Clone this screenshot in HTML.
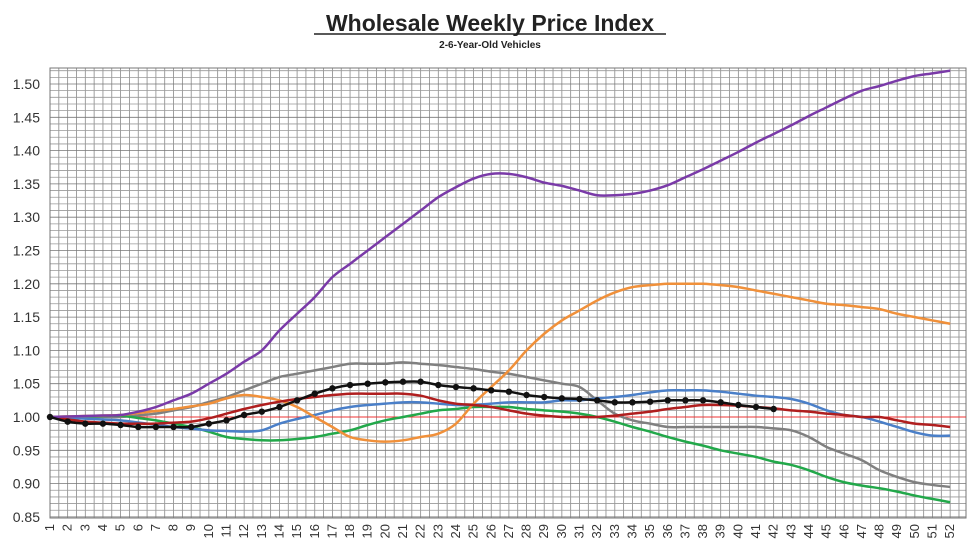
<!DOCTYPE html>
<html><head><meta charset="utf-8"><style>
html,body{margin:0;padding:0;background:#fff;}
svg{display:block;font-family:"Liberation Sans",Arial,sans-serif;}
</style></head><body>
<svg id="s" width="980" height="552" xmlns="http://www.w3.org/2000/svg">
<text x="490" y="31" text-anchor="middle" font-size="23" font-weight="bold" fill="#222">Wholesale Weekly Price Index</text>
<line x1="314" y1="34" x2="666" y2="34" stroke="#222" stroke-width="1.5"/>
<text x="490" y="48" text-anchor="middle" font-size="10" font-weight="bold" fill="#222">2-6-Year-Old Vehicles</text>
<g id="g"></g>
</svg>
<script>
var g=document.getElementById('g'),h='';
var L=50,R=966,T=68,B=518;
function X(w){return 50+(w-1)*17.65;}
function Y(v){return 417-(v-1)*666;}
for(var x=L;x<=R+0.5;x+=8.825){h+='<line x1="'+x+'" y1="'+T+'" x2="'+x+'" y2="'+B+'" stroke="#888" stroke-width="0.8"/>';}
for(var i=0;;i++){var v=0.85+i*0.01;var y=Y(v);if(y<T)break;h+='<line x1="'+L+'" y1="'+y+'" x2="'+R+'" y2="'+y+'" stroke="'+(i%5==0?'#777':'#999')+'" stroke-width="0.8"/>';}
h+='<rect x="'+L+'" y="'+T+'" width="'+(R-L)+'" height="'+(B-T)+'" fill="none" stroke="#777"/>';
for(var k=0;k<=13;k++){var v=0.85+k*0.05;h+='<text x="40" y="'+(Y(v)+5)+'" text-anchor="end" font-size="14" fill="#333">'+v.toFixed(2)+'</text>';}
for(var w=1;w<=52;w++){h+='<text transform="translate('+(X(w)+4)+',524) rotate(-90)" text-anchor="end" font-size="13" fill="#333">'+w+'</text>';}
h+='<line x1="'+L+'" y1="'+Y(1)+'" x2="'+R+'" y2="'+Y(1)+'" stroke="#e33" stroke-width="1"/>';
function series(d,n){var pts=[],ks=Object.keys(d).map(Number).sort(function(a,b){return a-b});
for(var w=1;w<=n;w++){var v;if(d[w]!==undefined)v=d[w];else{var a=1,b=n;for(var j=0;j<ks.length;j++){if(ks[j]<w)a=ks[j];if(ks[j]>w){b=ks[j];break;}}v=d[a]+(d[b]-d[a])*(w-a)/(b-a);}pts.push([X(w),Y(v)]);}
var p='M'+pts[0][0]+','+pts[0][1];for(var i=0;i<pts.length-1;i++){var p0=pts[Math.max(0,i-1)],p1=pts[i],p2=pts[i+1],p3=pts[Math.min(pts.length-1,i+2)];
p+='C'+(p1[0]+(p2[0]-p0[0])/6)+','+(p1[1]+(p2[1]-p0[1])/6)+' '+(p2[0]-(p3[0]-p1[0])/6)+','+(p2[1]-(p3[1]-p1[1])/6)+' '+p2[0]+','+p2[1];}
return {p:p,pts:pts};}
function draw(d,n,c,wd){var s=series(d,n);h+='<path d="'+s.p+'" fill="none" stroke="'+c+'" stroke-width="'+wd+'"/>';return s;}
var purple={1:1,5:1.003,6:1.008,7:1.015,8:1.025,9:1.035,10:1.05,11:1.065,12:1.083,13:1.1,14:1.13,15:1.155,16:1.18,17:1.21,18:1.23,19:1.25,20:1.27,21:1.29,22:1.31,23:1.33,24:1.345,25:1.358,26:1.365,27:1.365,28:1.36,29:1.352,30:1.347,31:1.34,32:1.333,33:1.333,34:1.335,35:1.34,36:1.348,37:1.36,38:1.372,39:1.385,40:1.398,41:1.412,42:1.425,43:1.438,44:1.452,45:1.465,46:1.478,47:1.49,48:1.497,49:1.505,50:1.512,51:1.516,52:1.52};
var orange={1:1,5:1.003,8:1.012,10:1.02,11:1.028,12:1.033,13:1.03,14:1.025,15:1.015,16:1.0,17:0.985,18:0.97,19:0.965,20:0.963,21:0.965,22:0.97,23:0.975,24:0.99,25:1.02,26:1.045,27:1.07,28:1.1,29:1.125,30:1.145,31:1.16,32:1.175,33:1.187,34:1.195,35:1.198,36:1.2,37:1.2,38:1.2,39:1.198,40:1.195,41:1.19,42:1.185,43:1.18,44:1.175,45:1.17,46:1.168,47:1.165,48:1.162,49:1.155,50:1.15,51:1.145,52:1.14};
var gray={1:1,5:1.0,7:1.005,9:1.015,11:1.03,12:1.04,13:1.05,14:1.06,15:1.065,16:1.07,17:1.075,18:1.08,19:1.08,20:1.08,21:1.082,22:1.08,23:1.078,24:1.075,25:1.072,26:1.068,27:1.065,28:1.06,29:1.055,30:1.05,31:1.045,32:1.025,33:1.005,34:0.995,35:0.99,36:0.985,37:0.985,38:0.985,39:0.985,40:0.985,41:0.985,42:0.983,43:0.98,44:0.97,45:0.955,46:0.945,47:0.935,48:0.92,49:0.91,50:0.902,51:0.898,52:0.895};
var blue={1:1,5:0.995,8:0.985,10:0.98,12:0.978,13:0.98,14:0.99,15:0.997,16:1.003,17:1.01,18:1.015,19:1.018,20:1.02,21:1.022,22:1.022,23:1.02,24:1.018,25:1.018,26:1.02,27:1.022,28:1.022,29:1.022,30:1.025,31:1.025,32:1.028,33:1.03,34:1.033,35:1.037,36:1.04,37:1.04,38:1.04,39:1.038,40:1.035,41:1.032,42:1.03,43:1.027,44:1.02,45:1.01,46:1.003,47:1.0,48:0.993,49:0.985,50:0.977,51:0.972,52:0.972};
var green={1:1,5:1.002,7:0.995,9:0.985,10:0.978,11:0.97,12:0.967,13:0.965,14:0.965,15:0.967,16:0.97,17:0.975,18:0.98,19:0.988,20:0.995,21:1.0,22:1.005,23:1.01,24:1.012,25:1.015,26:1.015,27:1.015,28:1.012,29:1.01,30:1.008,31:1.005,32:1.0,33:0.993,34:0.985,35:0.978,36:0.97,37:0.963,38:0.957,39:0.95,40:0.945,41:0.94,42:0.933,43:0.928,44:0.92,45:0.91,46:0.902,47:0.897,48:0.893,49:0.888,50:0.882,51:0.877,52:0.872};
var red={1:1,3:0.993,5:0.99,7:0.99,9:0.993,10:0.998,11:1.005,12:1.012,13:1.018,14:1.023,15:1.027,16:1.03,17:1.033,18:1.035,19:1.035,20:1.035,21:1.035,22:1.032,23:1.025,24:1.02,25:1.018,26:1.015,27:1.01,28:1.005,29:1.002,30:1.0,31:1.0,32:1.0,33:1.002,34:1.005,35:1.008,36:1.012,37:1.015,38:1.018,39:1.018,40:1.017,41:1.015,42:1.013,43:1.01,44:1.008,45:1.005,46:1.003,47:1.0,48:1.0,49:0.995,50:0.99,51:0.988,52:0.985};
var black={1:1,2:0.993,3:0.99,4:0.99,5:0.988,6:0.985,7:0.985,8:0.985,9:0.985,10:0.99,11:0.995,12:1.003,13:1.008,14:1.015,15:1.025,16:1.035,17:1.043,18:1.048,19:1.05,20:1.052,21:1.053,22:1.053,23:1.048,24:1.045,25:1.043,26:1.04,27:1.038,28:1.033,29:1.03,30:1.028,31:1.027,32:1.025,33:1.022,34:1.022,35:1.023,36:1.025,37:1.025,38:1.025,39:1.022,40:1.018,41:1.015,42:1.012};
draw(gray,52,'#808080',2.5);
draw(green,52,'#22a84a',2.5);
draw(blue,52,'#4a7fc8',2.5);
draw(orange,52,'#f0903a',2.5);
draw(red,52,'#b01e1e',2.5);
draw(purple,52,'#7a3aa8',2.5);
var s=draw(black,42,'#111',2.5);
s.pts.forEach(function(p){h+='<circle cx="'+p[0]+'" cy="'+p[1]+'" r="3.2" fill="#111"/>';});
g.innerHTML=h;
</script>
</body></html>
